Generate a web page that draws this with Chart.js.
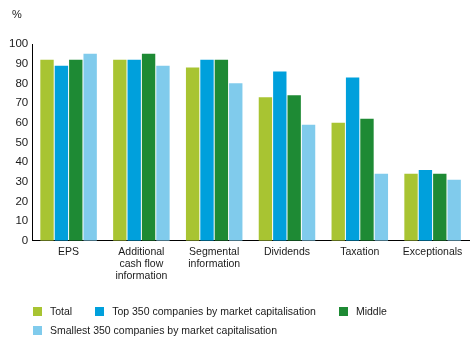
<!DOCTYPE html>
<html>
<head>
<meta charset="utf-8">
<script src="https://cdn.jsdelivr.net/npm/chart.js@4.4.1/dist/chart.umd.min.js"></script>
<style>
  html, body { margin: 0; padding: 0; background: #fff; }
  #wrap { position: relative; width: 476px; height: 342px; }
  #unit {
    position: absolute; left: 12px; top: 8px;
    font: 11px 'Liberation Sans', sans-serif; color: #1a1a1a;
  }
  #legend {
    position: absolute; left: 33px; top: 304px; width: 400px;
    display: flex; flex-wrap: wrap; column-gap: 23px; row-gap: 5px;
    font: 10.5px 'Liberation Sans', sans-serif; color: #1a1a1a;
  }
  #legend .item { display: flex; align-items: center; height: 14px; }
  #legend .box { width: 9px; height: 9px; margin-right: 8px; }
</style>
</head>
<body>
<div id="wrap">
  <canvas id="bar_chart" width="476" height="342"></canvas>
  <div id="unit">%</div>
  <div id="legend"></div>
</div>
<script>
var categories = [
  ['EPS'],
  ['Additional', 'cash flow', 'information'],
  ['Segmental', 'information'],
  ['Dividends'],
  ['Taxation'],
  ['Exceptionals']
];
var seriesNames = [
  'Total',
  'Top 350 companies by market capitalisation',
  'Middle',
  'Smallest 350 companies by market capitalisation'
];
var totalValues    = [92, 92, 88, 73, 60, 34];
var top350Values   = [89, 92, 92, 86, 83, 36];
var middleValues   = [92, 95, 92, 74, 62, 34];
var smallestValues = [95, 89, 80, 59, 34, 31];
var yTicks = [0, 10, 20, 30, 40, 50, 60, 70, 80, 90, 100];

var colors = ['#a8c432', '#00a0dc', '#1e8a34', '#80cbec'];
var fontFamily = "'Liberation Sans', sans-serif";
var textColor = '#1a1a1a';

(function () {
    var seriesValues = [totalValues, top350Values, middleValues, smallestValues];

    var datasets = seriesNames.map(function (name, i) {
        return {
            label: name,
            data: seriesValues[i],
            backgroundColor: colors[i],
            borderWidth: 0,
            barPercentage: 0.93,
            categoryPercentage: 0.79
        };
    });

    new Chart(document.getElementById('bar_chart').getContext('2d'), {
        type: 'bar',
        data: { labels: categories, datasets: datasets },
        options: {
            responsive: false,
            animation: false,
            layout: { padding: { left: 5, right: 7, top: 44, bottom: 55 } },
            plugins: {
                legend: { display: false },
                tooltip: { enabled: false },
                title: { display: false }
            },
            scales: {
                x: {
                    grid: { display: false, drawTicks: false },
                    border: { display: true, color: '#000', width: 1 },
                    ticks: {
                        color: textColor,
                        padding: 5,
                        maxRotation: 0,
                        autoSkip: false,
                        font: { family: fontFamily, size: 10.5, lineHeight: 1.15 }
                    }
                },
                y: {
                    min: 0,
                    max: 100,
                    afterBuildTicks: function (axis) {
                        axis.ticks = yTicks.map(function (v) { return { value: v }; });
                    },
                    grid: { display: false, drawTicks: false },
                    border: { display: true, color: '#000', width: 1 },
                    ticks: {
                        color: textColor,
                        padding: 4,
                        font: { family: fontFamily, size: 11.5 }
                    }
                }
            }
        }
    });

    // legend rows under the chart
    var legend = document.getElementById('legend');
    seriesNames.forEach(function (name, i) {
        var item = document.createElement('div');
        item.className = 'item';
        var box = document.createElement('span');
        box.className = 'box';
        box.style.background = colors[i];
        var label = document.createElement('span');
        label.textContent = name;
        item.appendChild(box);
        item.appendChild(label);
        legend.appendChild(item);
    });
}());
</script>
</body>
</html>
